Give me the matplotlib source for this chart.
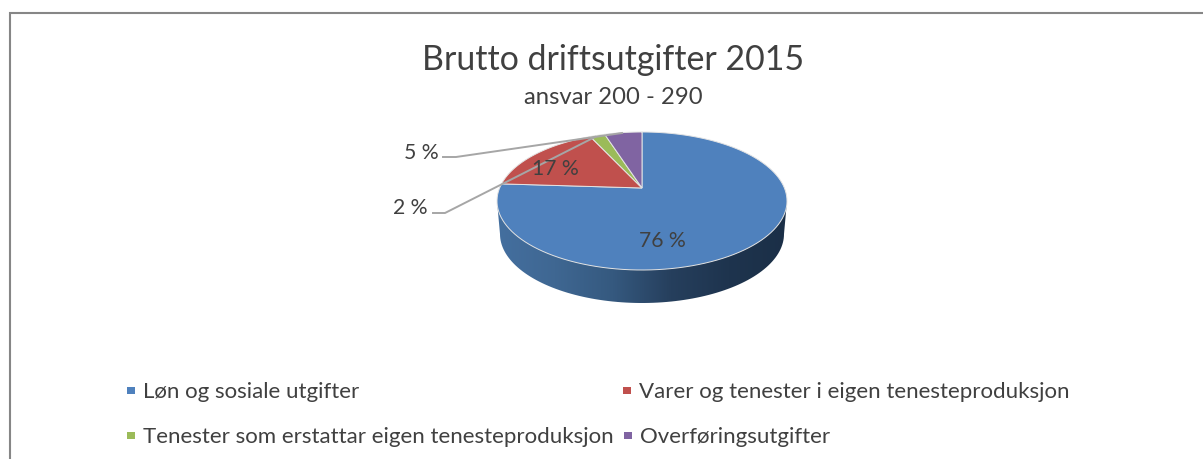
import numpy as np
import matplotlib
matplotlib.use('Agg')
import matplotlib.pyplot as plt
from matplotlib.patches import PathPatch, Rectangle
from matplotlib.path import Path
from matplotlib.colors import LinearSegmentedColormap

plt.rcParams['font.family'] = ['Lato', 'DejaVu Sans']

title = 'Brutto driftsutgifter 2015'
subtitle = 'ansvar 200 - 290'
categories = ['Løn og sosiale utgifter', 'Varer og tenester i eigen tenesteproduksjon',
              'Tenester som erstattar eigen tenesteproduksjon', 'Overføringsutgifter']
values = [76, 17, 2, 5]
labels = ['76 %', '17 %', '2 %', '5 %']
colors = ['#4f81bd', '#c0504d', '#9bbb59', '#8064a2']

W, H = 1203, 460
fig = plt.figure(figsize=(W / 100, H / 100), dpi=100)
# pixelkoordinater, y nedover
ax = fig.add_axes([0, 0, 1, 1])
ax.axis('off')

# ramme, hoegre og nedre kant er utanfor biletet
ax.add_patch(Rectangle((10, 14), 1220, 480, fc='white', ec='#868686', lw=1.5))

cx, cy, rx, ry, depth = 642, 202, 145, 69, 33
apex_y = 189
rx_bottom = 142

# perspektiv: vinkel rundt sirkelen -> vinkel paa ellipsen
c = (cy - apex_y) / ry
s = np.sqrt((1 - c) / (1 + c))

def pt(a):
    phi = 2 * np.arctan2(s * np.sin(a / 2), np.cos(a / 2))
    return cx + rx * np.sin(phi), cy - ry * np.cos(phi)

angles = np.cumsum([0] + values) / sum(values) * 2 * np.pi

# sideveggen
t = np.linspace(np.pi / 2, 3 * np.pi / 2, 100)
xs = cx + rx_bottom * np.sin(t)
ys = cy + depth - ry * np.cos(t)
wall = np.vstack([[cx + rx, cy], np.column_stack([xs, ys]), [cx - rx, cy], [cx + rx, cy]])
wall_patch = PathPatch(Path(wall), fc='none', ec='none')
ax.add_patch(wall_patch)
cmap = LinearSegmentedColormap.from_list('wall', ['#446f9f', '#3f6792', '#35597f', '#263f5d', '#1e344e', '#1b2f47'])
grad = np.linspace(0, 1, 256).reshape(1, -1)
im = ax.imshow(grad, extent=[cx - rx, cx + rx, cy + ry + depth, cy], cmap=cmap, aspect='auto', zorder=2)
im.set_clip_path(wall_patch)
ax.set_xlim(0, W)
ax.set_ylim(H, 0)

# sektorer
for i, col in enumerate(colors):
    t = np.linspace(angles[i], angles[i + 1], 120)
    xs, ys = pt(t)
    poly = np.vstack([[cx, apex_y], np.column_stack([xs, ys]), [cx, apex_y]])
    ax.fill(poly[:, 0], poly[:, 1], fc=col, ec='#e4e4e4', lw=0.7, zorder=3)

txt = '#404040'
ax.text(613, 60, title, fontsize=24.4, color=txt, ha='center', va='center', zorder=5)
ax.text(613, 98, subtitle, fontsize=17.2, color=txt, ha='center', va='center', zorder=5)

# etikettar
ax.text(662, 241, labels[0], fontsize=15.2, color=txt, ha='center', va='center', zorder=5)
ax.text(555, 169, labels[1], fontsize=15.2, color=txt, ha='center', va='center', zorder=5)
ax.text(410, 208, labels[2], fontsize=15.2, color=txt, ha='center', va='center', zorder=5)
ax.text(421, 153, labels[3], fontsize=15.2, color=txt, ha='center', va='center', zorder=5)

# leiarlinjer
ax.plot([433, 445, 595], [214, 214, 138], color='#a6a6a6', lw=1.4, zorder=4)
ax.plot([443, 456, 622], [158, 158, 134], color='#a6a6a6', lw=1.4, zorder=4)

# forklaring
legend_pos = [(131, 391), (627, 391), (131, 436), (628, 436)]
for (x, y), col, name in zip(legend_pos, colors, categories):
    ax.add_patch(Rectangle((x - 4, y - 3.5), 8, 7, fc=col, ec='none', zorder=5))
    ax.text(x + 12, y + 1, name, fontsize=16.05, color=txt, ha='left', va='center', zorder=5)

fig.savefig('out.png', dpi=100)
